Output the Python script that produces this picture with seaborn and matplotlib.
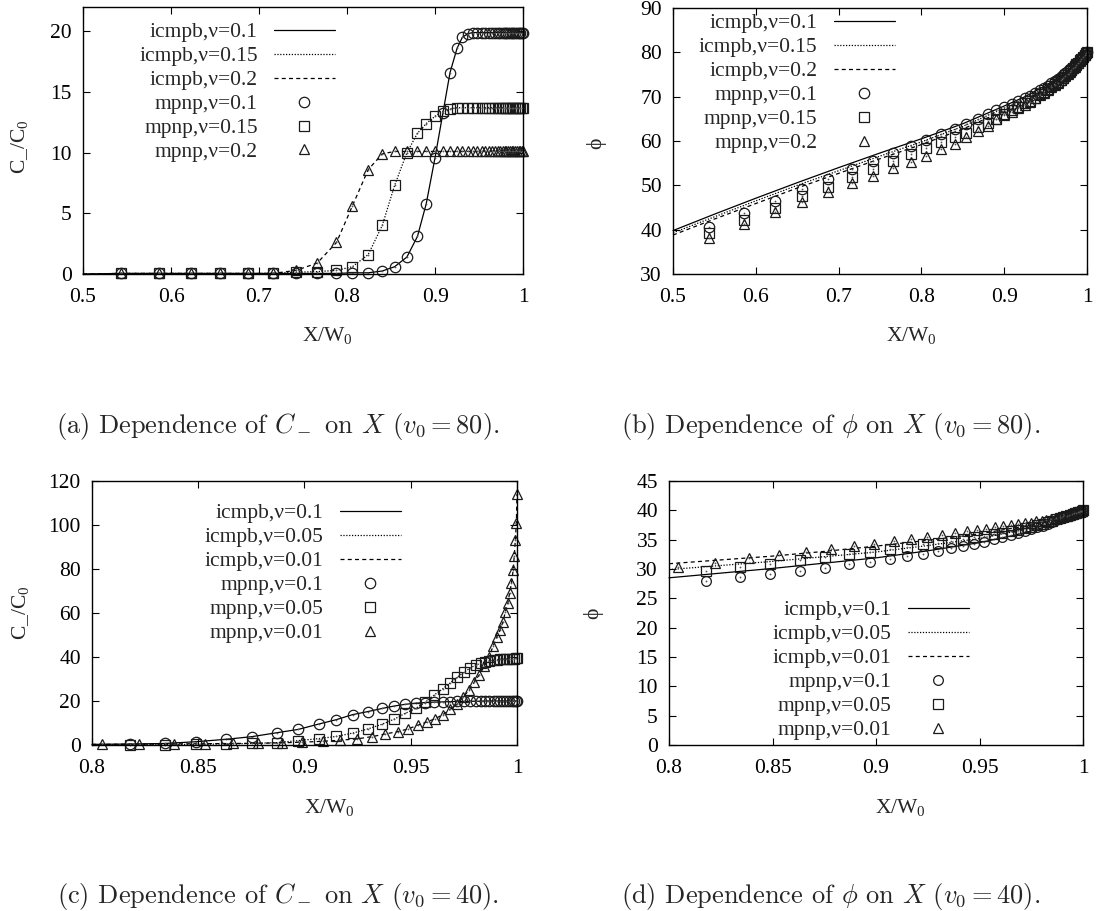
import matplotlib
matplotlib.use("Agg")
import matplotlib.pyplot as plt
from matplotlib.ticker import FuncFormatter, MultipleLocator
import seaborn as sns

# ---------------- v0 = 80 : panels (a) and (b) ----------------
# x positions of the mpnp points (same grid for the three nu values)
x_80 = [0.543, 0.586, 0.623, 0.656, 0.687, 0.716, 0.742, 0.766, 0.788, 0.806,
        0.824, 0.840, 0.854, 0.868, 0.880, 0.890, 0.900, 0.909, 0.917, 0.925,
        0.931, 0.937, 0.943, 0.948, 0.953, 0.957, 0.961, 0.965, 0.968, 0.971,
        0.974, 0.977, 0.979, 0.981, 0.983, 0.985, 0.987, 0.989, 0.991, 0.993,
        0.995, 0.997, 0.999, 1.000]

# (a) C_/C0
c80_nu010 = [0.05, 0.05, 0.05, 0.05, 0.05, 0.05, 0.05, 0.05, 0.05, 0.1,
             0.1, 0.25, 0.6, 1.4, 3.1, 5.8, 9.6, 13.3, 16.6, 18.6,
             19.5, 19.8, 19.9, 19.9, 19.9, 19.9, 19.9, 19.9, 19.9, 19.9,
             19.9, 19.9, 19.9, 19.9, 19.9, 19.9, 19.9, 19.9, 19.9, 19.9,
             19.9, 19.9, 19.9, 19.9]
c80_nu015 = [0.05, 0.05, 0.05, 0.05, 0.05, 0.05, 0.15, 0.2, 0.3, 0.6,
             1.6, 4.0, 7.3, 10.0, 11.6, 12.4, 13.0, 13.4, 13.6, 13.7,
             13.7, 13.7, 13.7, 13.7, 13.7, 13.7, 13.7, 13.7, 13.7, 13.7,
             13.7, 13.7, 13.7, 13.7, 13.7, 13.7, 13.7, 13.7, 13.7, 13.7,
             13.7, 13.7, 13.7, 13.7]
c80_nu020 = [0.05, 0.05, 0.05, 0.05, 0.05, 0.05, 0.3, 0.9, 2.6, 5.6,
             8.6, 9.9, 10.1, 10.1, 10.1, 10.1, 10.1, 10.1, 10.1, 10.1,
             10.1, 10.1, 10.1, 10.1, 10.1, 10.1, 10.1, 10.1, 10.1, 10.1,
             10.1, 10.1, 10.1, 10.1, 10.1, 10.1, 10.1, 10.1, 10.1, 10.1,
             10.1, 10.1, 10.1, 10.1]

# (b) phi, mpnp points
phi80_nu010 = [40.7, 43.7, 46.5, 49.2, 51.5, 53.6, 55.6, 57.3, 58.9, 60.3,
               61.6, 62.8, 63.9, 64.9, 66.0, 66.9, 67.7, 68.3, 69.0, 69.7,
               70.2, 70.8, 71.4, 71.9, 72.5, 73.0, 73.5, 74.0, 74.4, 74.8,
               75.3, 75.7, 76.0, 76.4, 76.7, 77.1, 77.5, 77.9, 78.3, 78.7,
               79.1, 79.5, 79.9, 80.0]
phi80_nu015 = [39.2, 42.2, 45.0, 47.5, 49.7, 51.8, 53.6, 55.4, 57.0, 58.4,
               59.7, 61.0, 61.9, 63.1, 64.0, 65.0, 66.1, 66.9, 67.7, 68.5,
               69.1, 69.8, 70.5, 71.1, 71.7, 72.3, 72.8, 73.4, 73.8, 74.3,
               74.8, 75.3, 75.7, 76.1, 76.5, 76.9, 77.3, 77.7, 78.2, 78.6,
               79.0, 79.4, 79.8, 80.0]
phi80_nu020 = [38.2, 41.2, 43.9, 46.3, 48.4, 50.5, 52.2, 53.9, 55.2, 56.7,
               58.2, 59.4, 60.9, 62.2, 63.4, 64.9, 65.8, 66.6, 67.4, 68.2,
               68.9, 69.6, 70.3, 70.9, 71.5, 72.1, 72.6, 73.2, 73.7, 74.2,
               74.7, 75.2, 75.6, 76.0, 76.4, 76.8, 77.2, 77.7, 78.1, 78.5,
               79.0, 79.4, 79.8, 80.0]

# (b) phi, icmpb curves
x_80_line = [0.5, 0.55, 0.6, 0.65, 0.7, 0.75, 0.8, 0.85, 0.9, 0.925, 0.95, 0.97, 0.985, 1.0]
phi80_line_nu010 = [39.8, 43.5, 47.1, 50.6, 54.0, 57.3, 60.5, 63.9, 67.9, 70.0, 72.5, 74.9, 77.2, 80.0]
phi80_line_nu015 = [39.3, 42.9, 46.5, 50.0, 53.3, 56.6, 59.8, 63.3, 67.4, 69.6, 72.2, 74.7, 77.1, 80.0]
phi80_line_nu020 = [38.8, 42.4, 45.9, 49.4, 52.7, 56.0, 59.2, 62.7, 66.9, 69.2, 71.9, 74.5, 77.0, 80.0]

# ---------------- v0 = 40 : panels (c) and (d) ----------------
# grid of the nu=0.1 and nu=0.05 points
x_40 = [0.8177, 0.8342, 0.849, 0.8631, 0.8752, 0.8871, 0.8971, 0.9066, 0.9149, 0.9226,
        0.9298, 0.9364, 0.9421, 0.9474, 0.9524, 0.9569, 0.961, 0.965, 0.9685, 0.972,
        0.975, 0.978, 0.9805, 0.983, 0.985, 0.987, 0.989, 0.9905, 0.992, 0.9935,
        0.995, 0.9963, 0.9975, 0.9985, 0.9993, 1.0]
# grid of the nu=0.01 points
x_40_nu001 = [0.8045, 0.8223, 0.8387, 0.8532, 0.8664, 0.8783, 0.8893, 0.8990, 0.9086, 0.9169,
              0.9248, 0.9317, 0.9380, 0.9438, 0.9488, 0.9532, 0.9577, 0.9615, 0.9651, 0.9686,
              0.9719, 0.9747, 0.9775, 0.9800, 0.9823, 0.9846, 0.9868, 0.9888, 0.9904, 0.9921,
              0.9934, 0.9945, 0.9957, 0.9965, 0.9974, 0.9982, 0.9987, 0.9992, 0.9997, 1.0]

# (c) C_/C0
c40_nu010 = [0.45, 0.7, 1.5, 2.6, 3.8, 5.6, 7.1, 9.5, 11.5, 13.8,
             15.2, 16.6, 17.7, 18.5, 19.0, 19.3, 19.5, 19.6, 19.7, 19.8,
             19.8, 19.9, 19.9, 19.9, 20.0, 20.0, 20.0, 20.0, 20.0, 20.0,
             20.0, 20.0, 20.0, 20.0, 20.0, 20.0]
c40_nu005 = [0.1, 0.2, 0.3, 0.5, 0.7, 1.1, 2.0, 2.9, 3.9, 5.4,
             7.3, 9.4, 11.7, 14.4, 16.7, 19.5, 22.7, 25.5, 28.2, 30.9,
             33.1, 35.0, 36.3, 37.2, 37.8, 38.2, 38.5, 38.7, 38.9, 39.0,
             39.1, 39.2, 39.3, 39.3, 39.4, 39.4]
c40_nu001 = [0.3, 0.4, 0.5, 0.6, 0.7, 0.8, 1.0, 1.3, 1.7, 2.2,
             2.8, 3.8, 5.0, 6.1, 7.3, 9.0, 10.5, 12.0, 13.8, 16.2,
             18.5, 21.9, 25.0, 28.7, 32.0, 35.8, 40.0, 45.0, 49.0, 52.5,
             56.0, 60.5, 64.5, 69.0, 73.5, 79.5, 86.0, 93.0, 101.0, 114.0]

# (d) phi, mpnp points
phi40_nu010 = [27.9, 28.6, 29.2, 29.7, 30.2, 30.8, 31.2, 31.7, 32.2, 32.6,
               33.0, 33.5, 33.9, 34.3, 34.6, 35.1, 35.4, 35.8, 36.1, 36.5,
               36.8, 37.1, 37.4, 37.7, 38.0, 38.3, 38.5, 38.7, 38.9, 39.1,
               39.3, 39.5, 39.7, 39.8, 39.9, 40.0]
phi40_nu005 = [29.6, 30.4, 30.9, 31.5, 32.1, 32.5, 32.9, 33.4, 33.8, 34.2,
               34.5, 34.8, 35.1, 35.5, 35.7, 35.9, 36.2, 36.4, 36.7, 37.0,
               37.2, 37.5, 37.7, 38.0, 38.2, 38.5, 38.7, 38.9, 39.0, 39.2,
               39.4, 39.5, 39.7, 39.8, 39.9, 40.0]
phi40_nu001 = [30.4, 31.1, 31.8, 32.4, 32.9, 33.4, 33.9, 34.3, 34.7, 35.1,
               35.5, 35.8, 36.1, 36.4, 36.7, 36.9, 37.1, 37.3, 37.5, 37.6,
               37.8, 37.9, 38.1, 38.2, 38.4, 38.5, 38.7, 38.8, 39.0, 39.1,
               39.2, 39.3, 39.5, 39.6, 39.7, 39.8, 39.85, 39.9, 39.95, 40.0]

# (d) phi, icmpb curves
x_40_line = [0.8, 0.85, 0.875, 0.9, 0.925, 0.95, 0.97, 0.98, 0.99, 1.0]
phi40_line_nu010 = [28.5, 30.1, 31.0, 31.9, 33.1, 34.5, 36.0, 37.0, 38.3, 40.0]
phi40_line_nu005 = [29.9, 31.3, 32.1, 32.9, 34.0, 35.2, 36.6, 37.4, 38.6, 40.0]
phi40_line_nu001 = [30.9, 32.2, 33.0, 33.9, 34.9, 36.0, 37.2, 37.9, 38.9, 40.0]

captions = [r"(a) Dependence of $C_-$ on $X$ ($v_0 = 80$).",
            r"(b) Dependence of $\phi$ on $X$ ($v_0 = 80$).",
            r"(c) Dependence of $C_-$ on $X$ ($v_0 = 40$).",
            r"(d) Dependence of $\phi$ on $X$ ($v_0 = 40$)."]

sns.set_theme(style="ticks")
FS = 15.5
plt.rcParams["font.family"] = ["Liberation Serif", "DejaVu Serif"]
plt.rcParams["mathtext.fontset"] = "custom"
plt.rcParams["mathtext.rm"] = "Liberation Serif"
plt.rcParams["mathtext.it"] = "Liberation Serif:italic"

INK = "#1a1a1a"
DOTTED = (0, (1, 1.3))
DASHED = (0, (3.2, 2.6))


def curve(ax, x, y, ls, label):
    sns.lineplot(x=x, y=y, ax=ax, color="black", linestyle=ls, linewidth=0.9,
                 errorbar=None, label=label)


def points(ax, x, y, marker, label, ms=7.5):
    sns.lineplot(x=x, y=y, ax=ax, linestyle="none", marker=marker, markersize=ms,
                 markerfacecolor="none", markeredgecolor=INK, markeredgewidth=0.9,
                 color=INK, errorbar=None, label=label)
    # small dot in the middle of each gnuplot symbol
    sns.lineplot(x=x, y=y, ax=ax, linestyle="none", marker="o", markersize=1.3,
                 markerfacecolor="#555555", markeredgewidth=0, color="#555555",
                 errorbar=None)


def finish(ax, xlim, ylim, xstep, ystep, ylabel, ylab_xy, xlab_xy, anchor):
    ax.set_xlim(*xlim)
    ax.set_ylim(*ylim)
    ax.xaxis.set_major_locator(MultipleLocator(xstep))
    ax.yaxis.set_major_locator(MultipleLocator(ystep))
    fmt = FuncFormatter(lambda v, p: f"{v:g}")
    ax.xaxis.set_major_formatter(fmt)
    ax.yaxis.set_major_formatter(fmt)
    ax.tick_params(direction="in", top=True, right=True, length=5, width=0.8,
                   labelsize=FS, colors="black")
    ax.tick_params(axis="x", pad=10)
    ax.tick_params(axis="y", pad=8)
    for s in ax.spines.values():
        s.set_visible(True)
        s.set_linewidth(1.0)
        s.set_color("black")
    ax.set_xlabel("X/W$_0$", fontsize=FS)
    ax.xaxis.set_label_coords(*xlab_xy)
    ax.set_ylabel(ylabel, fontsize=FS, rotation=90)
    ax.yaxis.set_label_coords(*ylab_xy)
    h, l = ax.get_legend_handles_labels()
    ax.legend(h, l, loc="upper right", bbox_to_anchor=anchor, frameon=False,
              markerfirst=False, handlelength=2.85, handletextpad=0.75,
              labelspacing=0.18, borderpad=0, borderaxespad=0, fontsize=FS,
              numpoints=1)


fig = plt.figure(figsize=(11.04, 9.11), dpi=100)
ax_a = fig.add_axes([0.0752, 0.6992, 0.3986, 0.2931])
ax_b = fig.add_axes([0.6096, 0.6992, 0.3750, 0.2920])
ax_c = fig.add_axes([0.0833, 0.1822, 0.3850, 0.2898])
ax_d = fig.add_axes([0.6060, 0.1822, 0.3750, 0.2898])

# (a)
curve(ax_a, [0.5] + x_80, [0.0] + c80_nu010, "-", "icmpb,ν=0.1")
curve(ax_a, [0.5] + x_80, [0.0] + c80_nu015, DOTTED, "icmpb,ν=0.15")
curve(ax_a, [0.5] + x_80, [0.0] + c80_nu020, DASHED, "icmpb,ν=0.2")
points(ax_a, x_80, c80_nu010, "o", "mpnp,ν=0.1")
points(ax_a, x_80, c80_nu015, "s", "mpnp,ν=0.15")
points(ax_a, x_80, c80_nu020, "^", "mpnp,ν=0.2")
finish(ax_a, (0.5, 1.0), (0, 22), 0.1, 5, "C_/C$_0$", (-0.12, 0.476), (0.555, -0.19),
       (0.573, 0.943))

# (b)
curve(ax_b, x_80_line, phi80_line_nu010, "-", "icmpb,ν=0.1")
curve(ax_b, x_80_line, phi80_line_nu015, DOTTED, "icmpb,ν=0.15")
curve(ax_b, x_80_line, phi80_line_nu020, DASHED, "icmpb,ν=0.2")
points(ax_b, x_80, phi80_nu010, "o", "mpnp,ν=0.1")
points(ax_b, x_80, phi80_nu015, "s", "mpnp,ν=0.15")
points(ax_b, x_80, phi80_nu020, "^", "mpnp,ν=0.2")
finish(ax_b, (0.5, 1.0), (30, 90), 0.1, 10, "ϕ", (-0.162, 0.49), (0.575, -0.19),
       (0.536, 0.980))

# (c)
curve(ax_c, [0.8] + x_40, [0.3] + c40_nu010, "-", "icmpb,ν=0.1")
curve(ax_c, [0.8] + x_40, [0.05] + c40_nu005, DOTTED, "icmpb,ν=0.05")
curve(ax_c, [0.8] + x_40_nu001, [0.3] + c40_nu001, DASHED, "icmpb,ν=0.01")
points(ax_c, x_40, c40_nu010, "o", "mpnp,ν=0.1")
points(ax_c, x_40, c40_nu005, "s", "mpnp,ν=0.05")
points(ax_c, x_40_nu001, c40_nu001, "^", "mpnp,ν=0.01")
finish(ax_c, (0.8, 1.0), (0, 120), 0.05, 20, "C_/C$_0$", (-0.144, 0.5), (0.558, -0.197),
       (0.727, 0.9155))

# (d)
curve(ax_d, x_40_line, phi40_line_nu010, "-", "icmpb,ν=0.1")
curve(ax_d, x_40_line, phi40_line_nu005, DOTTED, "icmpb,ν=0.05")
curve(ax_d, x_40_line, phi40_line_nu001, DASHED, "icmpb,ν=0.01")
points(ax_d, x_40, phi40_nu010, "o", "mpnp,ν=0.1", ms=7)
points(ax_d, x_40, phi40_nu005, "s", "mpnp,ν=0.05", ms=7)
points(ax_d, x_40_nu001, phi40_nu001, "^", "mpnp,ν=0.01", ms=7)
finish(ax_d, (0.8, 1.0), (0, 45), 0.05, 5, "ϕ", (-0.159, 0.5), (0.558, -0.197),
       (0.725, 0.548))

for ax in (ax_a, ax_b, ax_c, ax_d):
    for ln in ax.get_lines():
        ln.set_clip_on(False)

cap_pos = [(0.252, 0.532), (0.752, 0.532), (0.252, 0.0154), (0.752, 0.0154)]
for (cx, cy), txt in zip(cap_pos, captions):
    fig.text(cx, cy, txt, ha="center", va="center", fontsize=19,
             family="cmr10", math_fontfamily="cm")

fig.savefig("out.png", dpi=100)
